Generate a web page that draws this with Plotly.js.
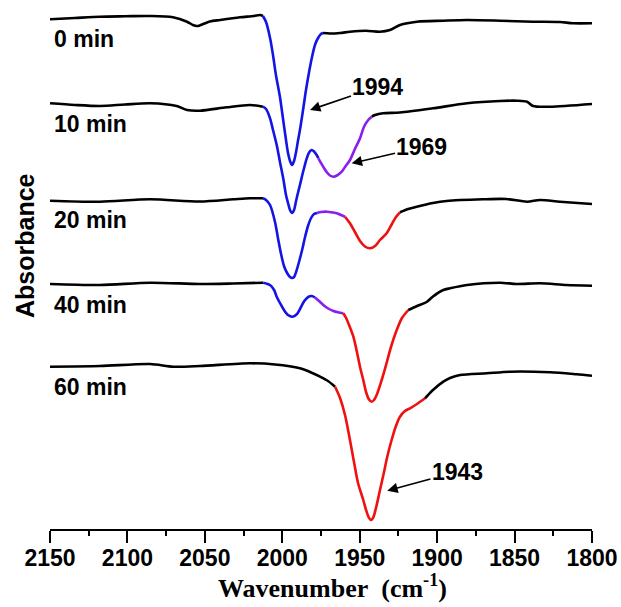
<!DOCTYPE html>
<html><head><meta charset="utf-8">
<script src="https://cdn.plot.ly/plotly-3.0.1.min.js"></script>
<style>html,body{margin:0;padding:0;background:#fff;}#chart{width:621px;height:607px;}</style>
</head><body><div id="chart"></div>
<script>
// Wavenumber (cm-1) and absorbance (a.u., stacked with vertical offset) for each spectrum
const names = ['0 min', '10 min', '20 min', '40 min', '60 min'];

const wn0 = [2150,2133.9,2117.7,2101.6,2085.4,2070.6,2061.5,2057.7,2055.1,2053.1,2046.7,2040.2,2027.3,2018.3,2014.4,2012.5,2010.5,2007.9,2006.0,2004.1,2001.5,1999.6,1997.6,1996.3,1995.0,1993.7,1992.4,1991.1,1989.9,1988.6,1986.6,1984.7,1982.7,1980.8,1978.9,1976.9,1975.0,1973.7,1969.2,1962.7,1956.3,1945.9,1936.9,1930.5,1924.0,1913.0,1896.2,1880.7,1859.4,1838.1,1820.7,1812.3,1800];
const abs0 = [5.097,5.11,5.123,5.127,5.13,5.117,5.073,5.04,5.03,5.037,5.075,5.09,5.117,5.13,5.14,5.13,5.07,4.91,4.74,4.54,4.32,4.11,3.89,3.76,3.68,3.64,3.68,3.77,3.88,3.99,4.19,4.39,4.57,4.72,4.84,4.91,4.95,4.96,4.955,4.96,4.973,4.983,4.973,4.99,5.04,5.073,5.083,5.09,5.083,5.073,5.07,5.057,5.057];

const wn10 = [2150,2133.9,2117.7,2101.6,2085.4,2068.2,2061.5,2053.1,2035.9,2020.8,2012.5,2010.5,2007.9,2006.0,2003.6,2001.5,1999.4,1997.6,1996.3,1995.0,1993.7,1992.4,1991.1,1989.9,1988.6,1986.6,1984.2,1982.7,1981.0,1979.5,1977.8,1976.7,1975.0,1973.1,1971.1,1969.2,1967.0,1964.7,1961.6,1959.5,1956.3,1953.1,1949.8,1947.3,1944.5,1942.1,1940.1,1935.0,1924.0,1902.7,1880.7,1859.4,1848.4,1842.0,1838.1,1827.1,1800];
const abs10 = [4.257,4.24,4.23,4.245,4.257,4.23,4.19,4.183,4.217,4.24,4.223,4.20,4.107,3.99,3.84,3.67,3.507,3.34,3.26,3.19,3.16,3.19,3.28,3.36,3.44,3.57,3.707,3.765,3.79,3.775,3.74,3.707,3.66,3.61,3.565,3.535,3.523,3.535,3.573,3.62,3.69,3.80,3.907,4.02,4.09,4.125,4.14,4.157,4.165,4.207,4.257,4.28,4.283,4.273,4.23,4.223,4.25];

const wn20 = [2150,2117.7,2085.4,2053.1,2031.6,2020.8,2012.5,2010.5,2007.9,2004.7,2002.8,2000.8,1998.9,1996.9,1995.0,1993.7,1992.4,1991.1,1989.2,1987.2,1985.3,1983.4,1981.4,1979.5,1977.6,1975.0,1971.1,1967.3,1964.7,1962.1,1959.5,1956.3,1953.1,1949.8,1946.6,1943.4,1940.1,1936.9,1932.6,1929.2,1926.6,1924.0,1918.8,1913.2,1902.7,1893.9,1870.4,1855.3,1842.0,1833.6,1820.7,1800];
const abs20 = [3.283,3.273,3.297,3.275,3.297,3.307,3.307,3.29,3.24,3.07,2.91,2.75,2.63,2.56,2.52,2.51,2.52,2.57,2.67,2.79,2.92,3.03,3.11,3.15,3.16,3.17,3.173,3.165,3.157,3.14,3.123,3.057,2.97,2.88,2.825,2.807,2.83,2.89,2.957,3.05,3.12,3.167,3.20,3.223,3.26,3.28,3.297,3.30,3.273,3.29,3.273,3.25];

const wn40 = [2150,2117.7,2085.4,2053.1,2031.8,2012.3,2007.9,2005.3,2003.6,2001.5,1998.9,1996.3,1993.3,1990.5,1987.9,1986.0,1984.2,1982.7,1981.0,1978.9,1976.3,1973.5,1970.4,1967.0,1964.0,1960.6,1958.8,1956.9,1954.1,1951.8,1949.8,1947.7,1945.9,1944.0,1942.3,1940.8,1938.8,1935.8,1933.0,1929.8,1926.1,1922.7,1918.6,1913.0,1906.8,1902.7,1896.0,1891.7,1880.7,1859.4,1848.6,1833.6,1816.3,1800];
const abs40 = [2.45,2.44,2.463,2.45,2.455,2.463,2.44,2.39,2.323,2.26,2.19,2.14,2.123,2.15,2.22,2.275,2.307,2.325,2.33,2.315,2.28,2.24,2.205,2.18,2.167,2.157,2.11,2.04,1.923,1.77,1.62,1.49,1.37,1.295,1.273,1.29,1.35,1.49,1.64,1.82,1.99,2.11,2.19,2.23,2.27,2.325,2.39,2.407,2.44,2.463,2.45,2.457,2.44,2.433];

const wn60 = [2150,2117.7,2085.4,2070.4,2053.1,2020.8,2004.7,1988.6,1982.1,1975.6,1970.5,1965.9,1962.7,1959.5,1956.3,1953.7,1951.1,1947.7,1945.9,1944.3,1942.9,1941.4,1939.5,1936.9,1934.3,1932.4,1929.4,1926.6,1924.0,1920.8,1917.5,1913.0,1907.8,1902.7,1896.0,1891.7,1885.2,1868.0,1852.9,1827.1,1809.9,1800];
const abs60 = [1.623,1.63,1.65,1.623,1.63,1.657,1.645,1.607,1.57,1.523,1.48,1.423,1.31,1.14,0.89,0.67,0.46,0.29,0.19,0.12,0.09,0.11,0.21,0.39,0.57,0.71,0.89,1.03,1.123,1.18,1.207,1.25,1.307,1.39,1.473,1.51,1.54,1.557,1.573,1.567,1.547,1.533];

// Band labels (cm-1)
const peakLabels = ['1994', '1969', '1943'];

// ---------- styling / layout ----------
const COL = {k: '#000000', b: '#1414e6', p: '#8a1ef0', r: '#f01010'};
const spectra = [
  {wn: wn0,  a: abs0,  segs: [[2150,2012.5,'k'],[2012.5,1973.7,'b'],[1973.7,1800,'k']]},
  {wn: wn10, a: abs10, segs: [[2150,2012.5,'k'],[2012.5,1976.7,'b'],[1976.7,1942.1,'p'],[1942.1,1800,'k']]},
  {wn: wn20, a: abs20, segs: [[2150,2012.5,'k'],[2012.5,1977.6,'b'],[1977.6,1959.5,'p'],[1959.5,1924.0,'r'],[1924.0,1800,'k']]},
  {wn: wn40, a: abs40, segs: [[2150,2012.3,'k'],[2012.3,1978.9,'b'],[1978.9,1960.6,'p'],[1960.6,1918.6,'r'],[1918.6,1800,'k']]},
  {wn: wn60, a: abs60, segs: [[2150,1965.9,'k'],[1965.9,1907.8,'r'],[1907.8,1800,'k']]}
];

const traces = [];
spectra.forEach((s, si) => {
  s.segs.forEach(([hi, lo, c]) => {
    const x = [], y = [];
    s.wn.forEach((w, i) => { if (w <= hi && w >= lo) { x.push(w); y.push(s.a[i]); } });
    traces.push({x, y, type: 'scatter', mode: 'lines', name: names[si],
      line: {color: COL[c], width: 2.6, shape: 'spline', smoothing: 0.8},
      hoverinfo: 'skip', showlegend: false});
  });
});

const SANS = 'Liberation Sans, Arial, sans-serif';
const SERIF = 'Liberation Serif, Times New Roman, serif';

const labelY = [4.90, 4.05, 3.09, 2.24, 1.42];
const annotations = names.map((n, i) => ({
  x: 2148.7, y: labelY[i], xref: 'x', yref: 'y', xanchor: 'left', yanchor: 'middle',
  text: '<b>' + n + '</b>', showarrow: false,
  font: {family: SANS, size: 23, color: '#000'}
}));

const arrowPos = [
  {tip: [1982.1, 4.19], txt: [1938.2, 4.423]},
  {tip: [1955.2, 3.657], txt: [1909.8, 3.82]},
  {tip: [1932.2, 0.383], txt: [1886.9, 0.573]}
];
peakLabels.forEach((p, i) => {
  const a = arrowPos[i];
  annotations.push({
    x: a.tip[0], y: a.tip[1], ax: a.txt[0], ay: a.txt[1],
    xref: 'x', yref: 'y', axref: 'x', ayref: 'y',
    text: '<b>' + p + '</b>', showarrow: true,
    arrowhead: 2, arrowsize: 1.3, arrowwidth: 1.6, arrowcolor: '#000', standoff: 0,
    font: {family: SANS, size: 23, color: '#000'}
  });
});

annotations.push({
  xref: 'paper', yref: 'paper', x: (332.5 - 50) / 542, y: -0.108,
  xanchor: 'center', yanchor: 'middle', showarrow: false,
  text: '<b>Wavenumber\u00A0\u00A0(cm<sup>-1</sup>)</b>',
  font: {family: SERIF, size: 26, color: '#000'}
});
annotations.push({
  xref: 'paper', yref: 'paper', x: (25 - 50) / 542, y: (529 - 246) / 529,
  xanchor: 'center', yanchor: 'middle', showarrow: false, textangle: -90,
  text: '<b>Absorbance</b>',
  font: {family: SANS, size: 25, color: '#000'}
});

const layout = {
  width: 621, height: 607,
  margin: {l: 50, r: 29, t: 0, b: 78},
  paper_bgcolor: '#ffffff', plot_bgcolor: '#ffffff',
  showlegend: false,
  xaxis: {
    range: [2150, 1800], tickmode: 'linear', tick0: 1800, dtick: 50,
    ticks: 'outside', ticklen: 12, tickwidth: 2, tickcolor: '#000',
    showline: true, linewidth: 2, linecolor: '#000',
    showgrid: false, zeroline: false, ticklabelstandoff: -5,
    tickfont: {family: SANS, size: 23, color: '#000', weight: 'bold'},
    minor: {dtick: 25, tick0: 1800, ticks: 'outside', ticklen: 5, tickwidth: 2, tickcolor: '#000', showgrid: false}
  },
  yaxis: {range: [0, 5.29], visible: false, fixedrange: true},
  annotations
};

Plotly.newPlot('chart', traces, layout, {staticPlot: true, displayModeBar: false});
</script>
</body></html>
